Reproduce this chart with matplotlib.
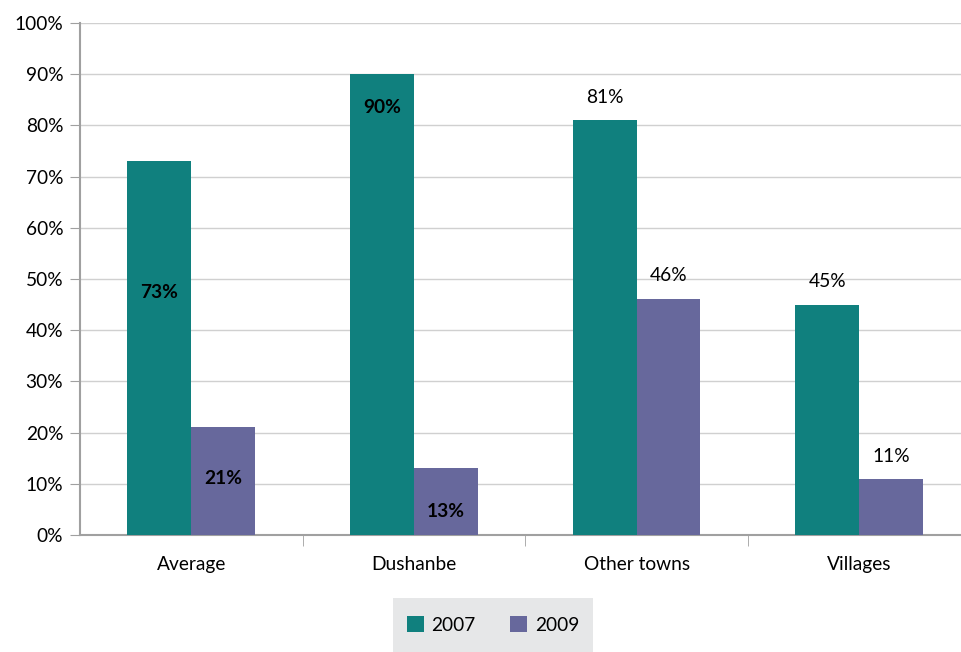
import matplotlib
matplotlib.use('Agg')
import matplotlib.pyplot as plt
import numpy as np
from matplotlib.ticker import MultipleLocator, FuncFormatter, FixedLocator

categories = ['Average', 'Dushanbe', 'Other towns', 'Villages']
values_2007 = [73, 90, 81, 45]
values_2009 = [21, 13, 46, 11]
series_names = ['2007', '2009']

# label y position (in %) and style for each bar value
label_y_2007 = [47.3, 83.4, 85.5, 49.6]
label_y_2009 = [11.1, 4.5, 50.6, 15.4]
bold_2007 = [True, True, False, False]
bold_2009 = [True, True, False, False]

c07 = '#10807e'
c09 = '#67689c'
fs = 13.8

plt.rcParams['font.family'] = ['Lato', 'DejaVu Sans']

fig = plt.figure(figsize=(9.62, 6.52), dpi=100)
ax = fig.add_axes([80 / 962, (652 - 535) / 652, (970.5 - 80) / 962, 512 / 652])

x = np.arange(len(categories))
w = 0.287
b1 = ax.bar(x - w / 2, values_2007, w, color=c07, label=series_names[0], zorder=3)
b2 = ax.bar(x + w / 2, values_2009, w, color=c09, label=series_names[1], zorder=3)

for i in range(len(categories)):
    ax.text(x[i] - w / 2, label_y_2007[i], '%d%%' % values_2007[i], ha='center', va='center',
            fontsize=fs, fontweight='bold' if bold_2007[i] else 'normal', color='black', zorder=4)
    ax.text(x[i] + w / 2, label_y_2009[i], '%d%%' % values_2009[i], ha='center', va='center',
            fontsize=fs, fontweight='bold' if bold_2009[i] else 'normal', color='black', zorder=4)

ax.set_ylim(0, 100)
ax.set_xlim(-0.5, len(categories) - 0.5)
ax.yaxis.set_major_locator(MultipleLocator(10))
ax.yaxis.set_major_formatter(FuncFormatter(lambda v, p: '%d%%' % v))
ax.grid(axis='y', color='#d0d0d0', linewidth=1, zorder=0)

ax.set_xticks(x)
ax.set_xticklabels(categories)
ax.xaxis.set_minor_locator(FixedLocator(np.arange(0.5, len(categories) - 1, 1.0)))
ax.tick_params(axis='x', which='major', length=0, pad=15, labelsize=fs)
ax.tick_params(axis='x', which='minor', length=8, color='#a0a0a0', direction='out')
ax.tick_params(axis='y', length=7, color='#a0a0a0', labelsize=fs, pad=5)

for s in ['top', 'right']:
    ax.spines[s].set_visible(False)
ax.spines['left'].set_color('#a0a0a0')
ax.spines['bottom'].set_color('#a0a0a0')
ax.spines['left'].set_linewidth(1.5)
ax.spines['bottom'].set_linewidth(1.5)

# legend box in grey strip below the chart
lax = fig.add_axes([393 / 962, 0, 200 / 962, 54 / 652])
lax.set_facecolor('#e6e7e8')
lax.set_xticks([])
lax.set_yticks([])
for s in lax.spines.values():
    s.set_visible(False)
lax.legend(handles=[b1, b2], loc='center', ncol=2, frameon=False, fontsize=fs,
           handlelength=0.9, handleheight=0.9, columnspacing=1.8, handletextpad=0.4)

fig.savefig('out.png', dpi=100)
